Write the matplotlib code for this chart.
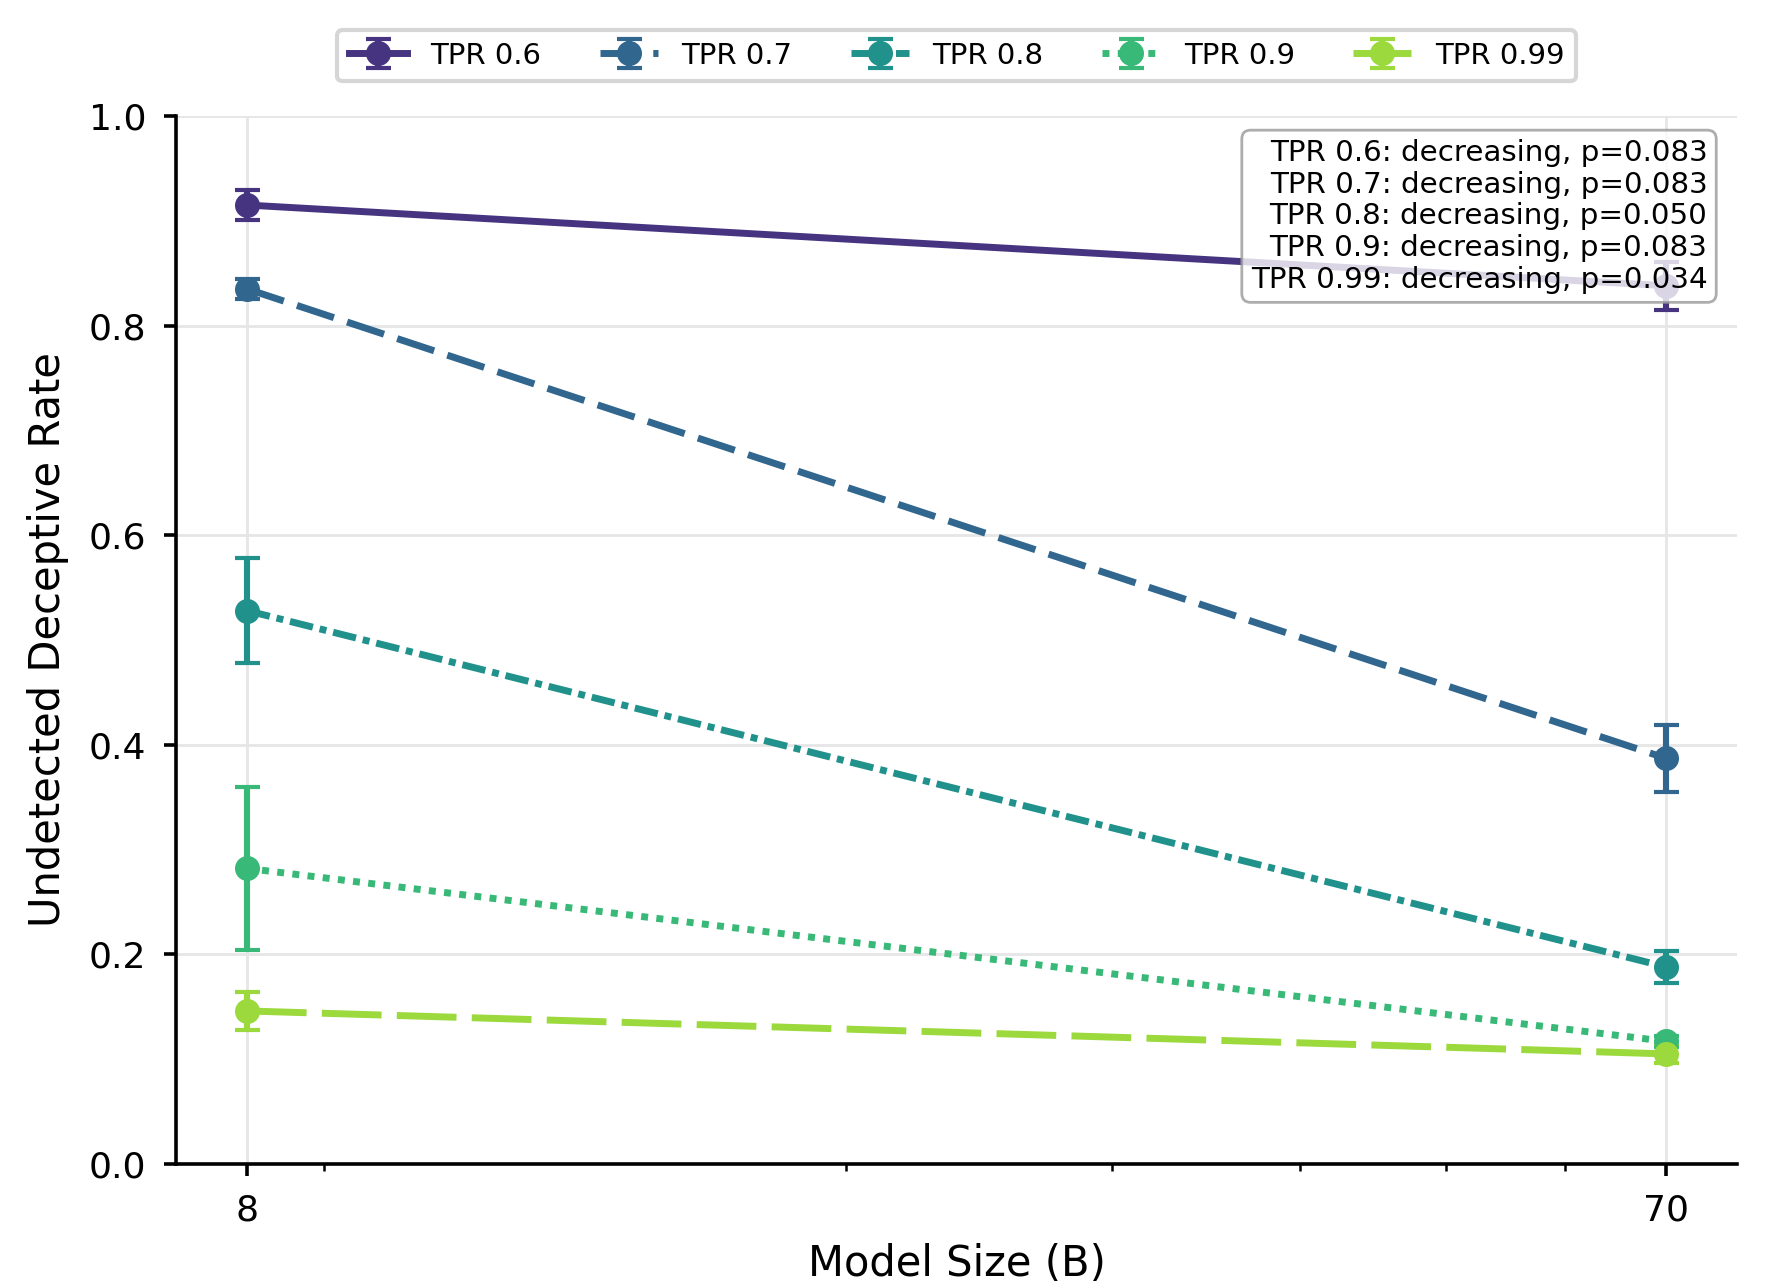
import numpy as np
import matplotlib
matplotlib.use("Agg")
import matplotlib.pyplot as plt
from matplotlib.ticker import NullFormatter, FixedLocator

model_sizes = [8, 70]
series_labels = ["TPR 0.6", "TPR 0.7", "TPR 0.8", "TPR 0.9", "TPR 0.99"]
means = [
    [0.915, 0.838],
    [0.835, 0.387],
    [0.528, 0.188],
    [0.282, 0.117],
    [0.146, 0.105],
]
errors = [
    [0.0145, 0.023],
    [0.0095, 0.032],
    [0.050, 0.0155],
    [0.0775, 0.005],
    [0.018, 0.009],
]
trend_text = [
    "TPR 0.6: decreasing, p=0.083",
    "TPR 0.7: decreasing, p=0.083",
    "TPR 0.8: decreasing, p=0.050",
    "TPR 0.9: decreasing, p=0.083",
    "TPR 0.99: decreasing, p=0.034",
]

linestyles = ["-", (0, (5.6, 2.0)), (0, (3.4, 1.0, 1.0, 1.0)), (0, (1.0, 1.2)), (0, (8.6, 2.2))]
colors = plt.cm.viridis(np.linspace(0.15, 0.85, 5))

fig = plt.figure(figsize=(8.84, 6.42), dpi=200)
ax = fig.add_axes([0.0995, 0.0935, 0.883, 0.8162])

for lab, m, e, ls, c in zip(series_labels, means, errors, linestyles, colors):
    ax.errorbar(model_sizes, m, yerr=e, label=lab, color=c, linestyle=ls,
                linewidth=2.5, marker="o", markersize=8, capsize=4.5,
                capthick=1.5, elinewidth=2.2, zorder=3)

ax.set_xscale("log")
ax.xaxis.set_major_locator(FixedLocator(model_sizes))
ax.set_xticklabels([str(s) for s in model_sizes])
ax.xaxis.set_minor_formatter(NullFormatter())
ax.set_ylim(0, 1.0)
ax.set_yticks([0.0, 0.2, 0.4, 0.6, 0.8, 1.0])

ax.grid(True, which="major", color="#e6e6e6", linewidth=1.0, zorder=0)
ax.set_axisbelow(True)
for s in ["top", "right"]:
    ax.spines[s].set_visible(False)
for s in ["left", "bottom"]:
    ax.spines[s].set_linewidth(1.3)
ax.tick_params(axis="both", which="major", labelsize=13, length=4.2, width=1.3, pad=6.5)
ax.tick_params(axis="x", which="minor", length=2.5, width=0.9)

ax.set_xlabel("Model Size (B)", fontsize=15, labelpad=5.5)
ax.set_ylabel("Undetected Deceptive Rate", fontsize=15, labelpad=7)

leg = ax.legend(loc="lower center", bbox_to_anchor=(0.5, 1.033), ncol=5,
                fontsize=10.5, frameon=True, fancybox=True, borderaxespad=0)
leg.get_frame().set_edgecolor("#cccccc")
leg.get_frame().set_linewidth(1.5)

ax.text(0.981, 0.978, "\n".join(trend_text), transform=ax.transAxes,
        ha="right", va="top", multialignment="right", fontsize=10.6,
        linespacing=1.165, zorder=5,
        bbox=dict(boxstyle="round,pad=0.3", facecolor="white", edgecolor="#999999",
                  alpha=0.8, linewidth=1.0))

fig.savefig("out.png", dpi=200)
